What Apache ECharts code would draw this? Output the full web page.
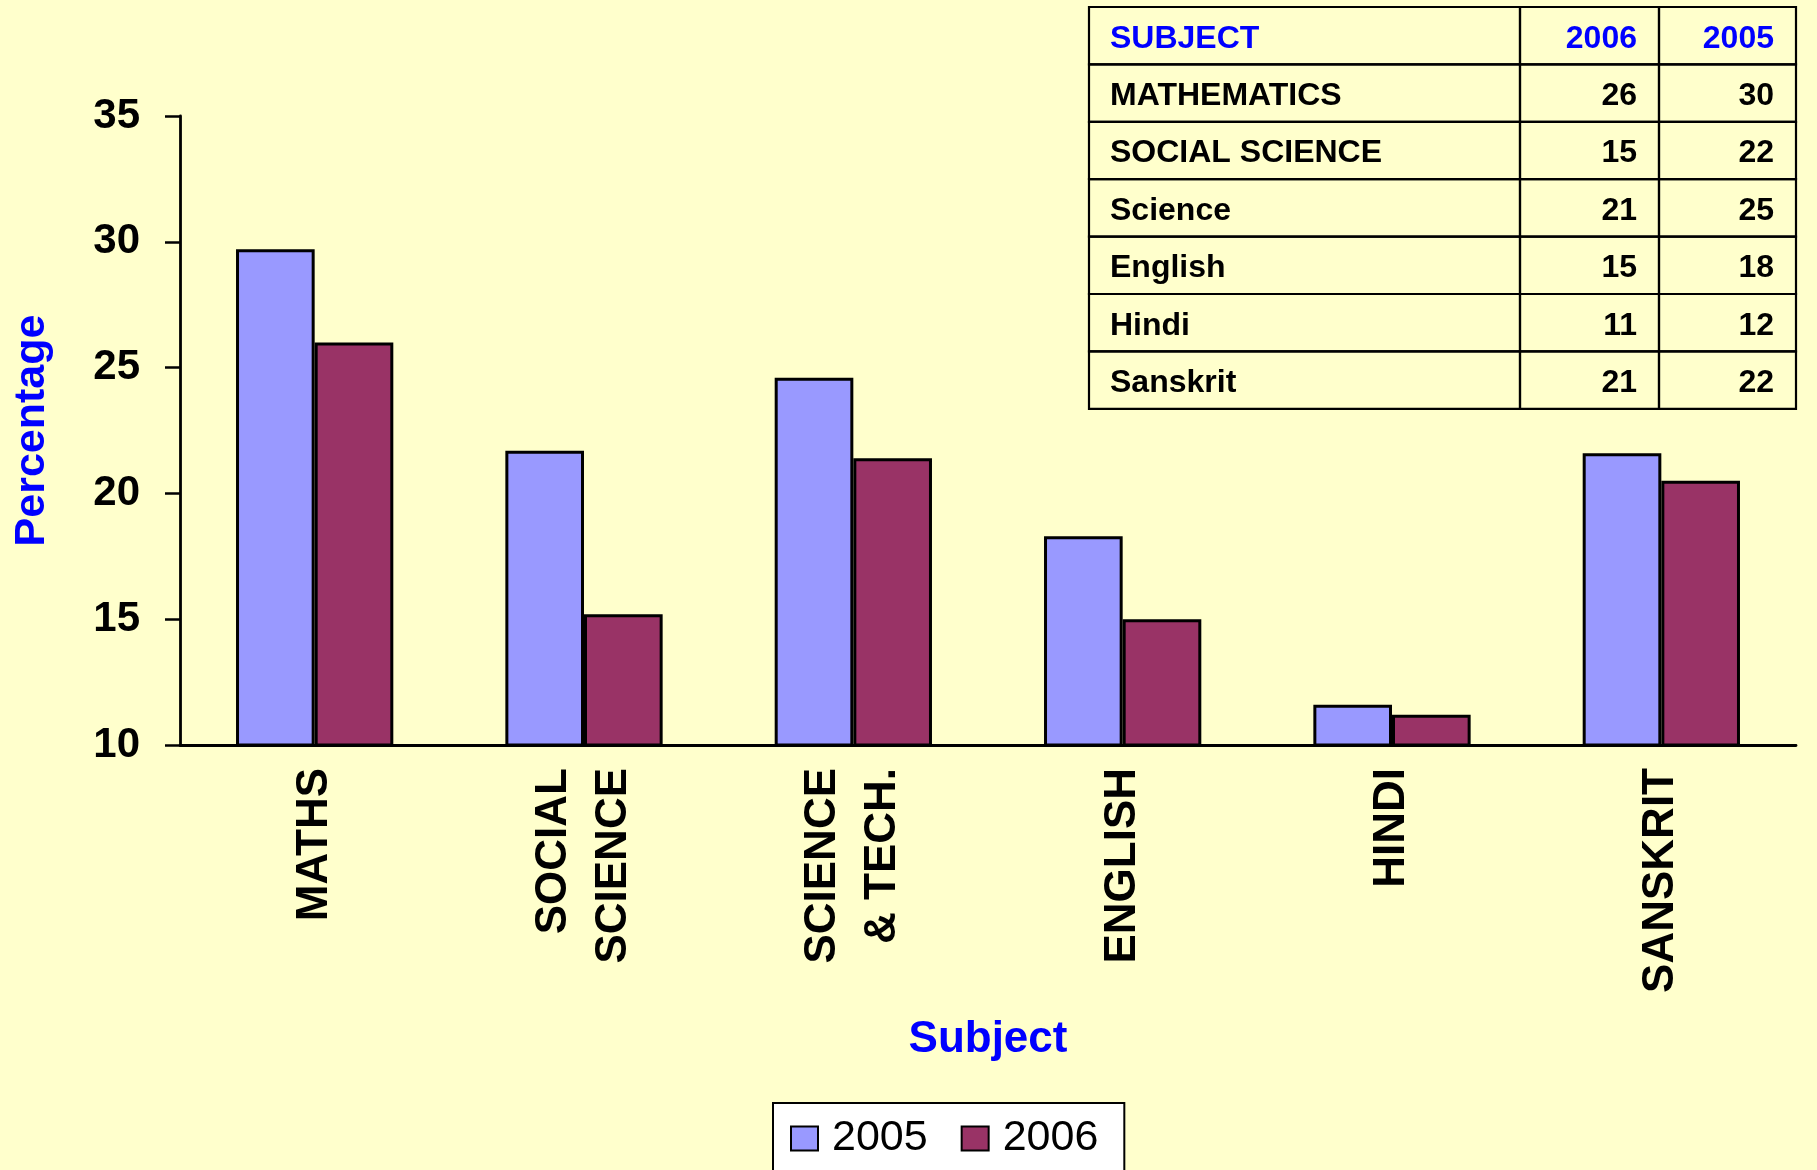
<!DOCTYPE html>
<html>
<head>
<meta charset="utf-8">
<title>Subject wise result</title>
<script src="https://cdn.jsdelivr.net/npm/echarts@6/dist/echarts.min.js"></script>
<style>
  html, body { margin: 0; padding: 0; background: #FFFFCC; }
  #main { width: 1817px; height: 1170px; }
</style>
</head>
<body>
<div id="main"></div>
<script>
// x axis categories
var subjects = ['MATHS', 'SOCIAL\nSCIENCE', 'SCIENCE\n& TECH.', 'ENGLISH', 'HINDI', 'SANSKRIT'];
// bar heights
var data2005 = [29.7, 21.7, 24.6, 18.3, 11.6, 21.6];
var data2006 = [26.0, 15.2, 21.4, 15.0, 11.2, 20.5];
var yMin = 10, yMax = 35, yStep = 5;

// the data table in the top right corner
var tableHead = ['SUBJECT', '2006', '2005'];
var tableNames = ['MATHEMATICS', 'SOCIAL SCIENCE', 'Science', 'English', 'Hindi', 'Sanskrit'];
var table2006 = [26, 15, 21, 15, 11, 21];
var table2005 = [30, 22, 25, 18, 12, 22];

var FONT = '"Liberation Sans", Arial, sans-serif';

// build the table out of graphic rects + texts
function buildTable() {
  var colX = [1089, 1520, 1659, 1796];
  var top = 7, rowH = 57.4;
  var els = [];
  var rows = [tableHead];
  for (var i = 0; i < tableNames.length; i++) {
    rows.push([tableNames[i], String(table2006[i]), String(table2005[i])]);
  }
  rows.forEach(function (row, r) {
    var y = top + r * rowH;
    var color = r === 0 ? '#0000FF' : '#000000';
    for (var c = 0; c < 3; c++) {
      els.push({
        type: 'rect',
        shape: { x: colX[c], y: y, width: colX[c + 1] - colX[c], height: rowH },
        style: { fill: 'none', stroke: '#000', lineWidth: 2.2 }
      });
      els.push({
        type: 'text',
        style: {
          text: row[c],
          x: c === 0 ? colX[0] + 21 : colX[c + 1] - 22,
          y: y + rowH / 2 + 3,
          align: c === 0 ? 'left' : 'right',
          verticalAlign: 'middle',
          fill: color,
          font: 'bold 32px ' + FONT
        }
      });
    }
  });
  return els;
}

var myChart = echarts.init(document.getElementById('main'));
myChart.setOption({
  animation: false,
  backgroundColor: '#FFFFCC',
  grid: {
    left: 180,
    right: 21,
    top: 116,
    bottom: 425,
    containLabel: false,
    outerBoundsMode: 'none'
  },
  legend: {
    data: ['2005', '2006'],
    left: 773,
    top: 1103,
    orient: 'horizontal',
    backgroundColor: '#FFFFFF',
    borderColor: '#000',
    borderWidth: 2,
    padding: [14, 26, 40, 17],
    itemWidth: 27,
    itemHeight: 24,
    itemGap: 33,
    icon: 'rect',
    textStyle: { fontSize: 43, fontFamily: FONT, color: '#000', padding: [0, 0, 0, 9] }
  },
  xAxis: {
    type: 'category',
    data: subjects,
    name: 'Subject',
    nameLocation: 'middle',
    nameGap: 273,
    nameTextStyle: { color: '#0000FF', fontSize: 44, fontWeight: 'bold', fontFamily: FONT },
    axisLine: { lineStyle: { color: '#000', width: 2.8 } },
    axisTick: { length: 14, lineStyle: { color: '#000', width: 2.5 } },
    axisLabel: {
      interval: 0,
      rotate: 90,
      margin: 23,
      padding: [0, 0, 20, 0],
      color: '#000',
      fontSize: 44,
      fontWeight: 'bold',
      fontFamily: FONT,
      lineHeight: 60
    }
  },
  yAxis: {
    type: 'value',
    min: yMin,
    max: yMax,
    interval: yStep,
    name: 'Percentage',
    nameLocation: 'middle',
    nameRotate: 90,
    nameGap: 126,
    nameTextStyle: { color: '#0000FF', fontSize: 43, fontWeight: 'bold', fontFamily: FONT },
    splitLine: { show: false },
    axisLine: { show: true, lineStyle: { color: '#000', width: 2.8 } },
    axisTick: { show: true, length: 15, lineStyle: { color: '#000', width: 2.5 } },
    axisLabel: { margin: 40, color: '#000', fontSize: 42, fontWeight: 'bold', fontFamily: FONT }
  },
  series: [
    {
      name: '2005',
      type: 'bar',
      data: data2005,
      barGap: '0%',
      barCategoryGap: '41.6%',
      itemStyle: { color: '#9999FF', borderColor: '#000', borderWidth: 3 }
    },
    {
      name: '2006',
      type: 'bar',
      data: data2006,
      itemStyle: { color: '#993366', borderColor: '#000', borderWidth: 3 }
    }
  ],
  graphic: buildTable()
});
</script>
</body>
</html>
